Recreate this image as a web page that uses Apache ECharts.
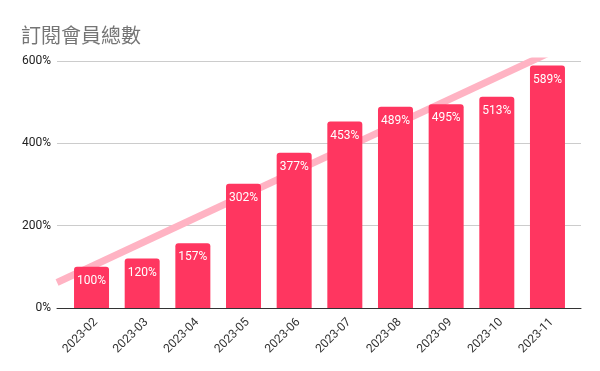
<!DOCTYPE html>
<html><head><meta charset="utf-8">
<script src="https://cdn.jsdelivr.net/npm/echarts@6/dist/echarts.min.js"></script>
<style>html,body{margin:0;padding:0;background:#fff}#c{width:600px;height:371px}</style>
</head><body><div id="c"></div>
<script>
const title = '訂閱會員總數';
const categories = ['2023-02','2023-03','2023-04','2023-05','2023-06','2023-07','2023-08','2023-09','2023-10','2023-11'];
const values = [100,120,157,302,377,453,489,495,513,589];
const yTicks = [0,200,400,600];
// trendline endpoints (x in category index units, y in %); clipped by the plot area
const trendX = [-0.68, 9.0];
const trendY = [62, 618];

const chart = echarts.init(document.getElementById('c'));
chart.setOption({
  animation:false,
  textStyle:{fontFamily:'Roboto, "Noto Sans CJK TC", sans-serif'},
  title:{text:title,left:16,top:20,textStyle:{fontSize:20,fontWeight:'normal',color:'#757575',fontFamily:'"Noto Sans CJK TC", sans-serif'}},
  grid:[
    {left:57,right:19,top:61,bottom:63},
    {left:66.2,right:27.2,top:61,bottom:63}
  ],
  xAxis:[
    {type:'value',gridIndex:0,min:-0.681,max:9.661,show:true,axisLabel:{show:false},axisTick:{show:false},splitLine:{show:false},axisLine:{show:true,lineStyle:{color:'#333',width:1}}},
    {type:'category',gridIndex:1,data:categories,axisLine:{show:false},axisTick:{show:false},
      axisLabel:{interval:0,rotate:45,color:'#333',fontSize:12,margin:8,verticalAlign:'top'}}
  ],
  yAxis:[
    {type:'value',gridIndex:0,min:yTicks[0],max:yTicks[yTicks.length-1],interval:200,
      axisLabel:{formatter:'{value}%',color:'#222',fontSize:12,margin:6},
      axisLine:{show:false},axisTick:{show:false},splitLine:{lineStyle:{color:'#cccccc'}}},
    {type:'value',gridIndex:1,min:yTicks[0],max:yTicks[yTicks.length-1],interval:200,show:false}
  ],
  series:[
    {type:'line',xAxisIndex:0,yAxisIndex:0,data:trendX.map((x,i)=>[x,trendY[i]]),symbol:'none',clip:true,
      lineStyle:{color:'#ffb3c3',width:7,cap:'butt'},z:1,silent:true},
    {type:'bar',xAxisIndex:1,yAxisIndex:1,data:values,barWidth:35,z:3,
      itemStyle:{color:'#ff3660',borderRadius:[3,3,0,0]},
      label:{show:true,position:'insideTop',distance:8,formatter:'{c}%',color:'#fff',fontSize:12}}
  ]
});
</script></body></html>
